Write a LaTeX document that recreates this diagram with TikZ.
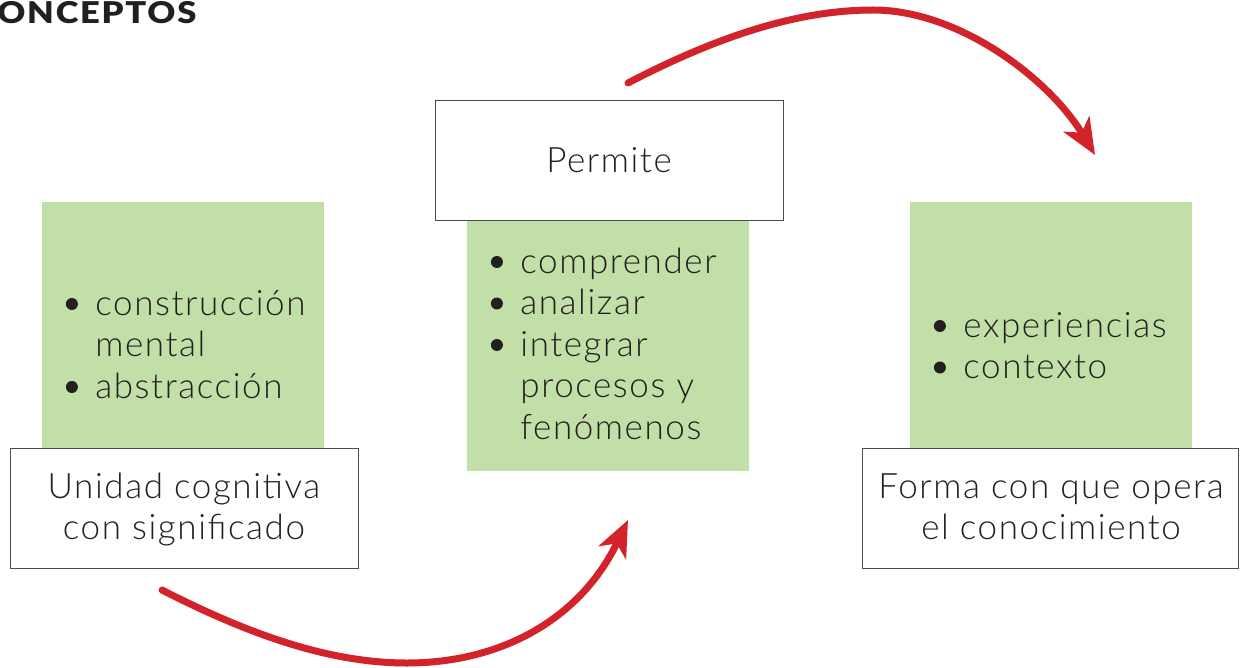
\documentclass[tikz,border=0pt]{standalone}
\usepackage{fontspec}
\setmainfont{Lato Light}[LetterSpace=4.5, BoldFont=Lato Black]
\usetikzlibrary{arrows.meta}
\definecolor{leaf}{HTML}{C2DFA8}
\definecolor{arrowred}{HTML}{D2232A}
\definecolor{ink}{HTML}{231F20}
\definecolor{frame}{HTML}{4D4D4D}
\newcommand{\bul}{\makebox[15pt][l]{\tikz[baseline=0pt]{\useasboundingbox (0pt,0pt) rectangle (15pt,1pt);\fill[ink] (3.25pt,5.5pt) circle (3pt);}}}
\newcommand{\ind}{\hspace*{15pt}}
\tikzset{
  x=0.5pt, y=-0.5pt,
  greenbox/.style={fill=leaf, draw=none, anchor=north west, inner sep=0pt},
  whitebox/.style={fill=white, draw=frame, line width=0.6pt, anchor=north west, inner sep=0pt},
  txt/.style={anchor=base west, inner sep=0pt, text=ink, font=\fontsize{17.5}{20.75}\selectfont},
  ctxt/.style={anchor=base, inner sep=0pt, text=ink, font=\fontsize{17.5}{20.75}\selectfont},
  bigarrow/.style={draw=arrowred, line width=3.5pt, line cap=round,
    -{Stealth[length=18pt, width=15pt, inset=5pt]}},
}
\begin{document}
\begin{tikzpicture}
\useasboundingbox (0,0) rectangle (1240,668);
% title
\node[anchor=base west, inner sep=0pt, text=ink, font=\fontsize{15}{17}\selectfont\bfseries\addfontfeature{LetterSpace=5}] (title) at (-3,24) {\scalebox{1.15}[1]{ONCEPTOS}};
% green boxes
\node[greenbox, minimum width=141pt, minimum height=125pt] (g1) at (42,202) {};
\node[greenbox, minimum width=141pt, minimum height=126pt] (g2) at (467,219) {};
\node[greenbox, minimum width=141pt, minimum height=125pt] (g3) at (910,202) {};
% white boxes
\node[whitebox, minimum width=174pt, minimum height=60pt] (w1) at (10,448) {};
\node[whitebox, minimum width=174pt, minimum height=60pt] (w2) at (435,100) {};
\node[whitebox, minimum width=188pt, minimum height=60pt] (w3) at (862,448) {};
% lists
\node[txt] (l1) at (65,315) {\begin{tabular}[t]{@{}l@{}}\bul construcción\\ \ind mental\\ \bul abstracción\end{tabular}};
\node[txt] (l2) at (490,273) {\begin{tabular}[t]{@{}l@{}}\bul comprender\\ \bul analizar\\ \bul integrar\\ \ind procesos y\\ \ind fenómenos\end{tabular}};
\node[txt] (l3) at (933,337) {\begin{tabular}[t]{@{}l@{}}\bul experiencias\\ \bul contexto\end{tabular}};
% box labels
\node[ctxt] (t1) at (184,498) {\begin{tabular}[t]{@{}c@{}}Unidad cognitiva\\ con significado\end{tabular}};
\node[ctxt] (t2) at (609,173) {Permite};
\node[ctxt] (t3) at (1051,498) {\begin{tabular}[t]{@{}c@{}}Forma con que opera\\ el conocimiento\end{tabular}};
% arrows
\coordinate (a1s) at (628,83);
\coordinate (a1m) at (873,10);
\coordinate (a1e) at (1095,155);
\coordinate (a2s) at (162,590);
\coordinate (a2m) at (407,663);
\coordinate (a2e) at (628,520);
\draw[bigarrow] (a1s) .. controls (720,35) and (800,10) .. (a1m) .. controls (960,10) and (1050,80) .. (a1e);
\draw[bigarrow] (a2s) .. controls (250,635) and (330,663) .. (a2m) .. controls (500,663) and (580,620) .. (a2e);
\end{tikzpicture}
\end{document}
